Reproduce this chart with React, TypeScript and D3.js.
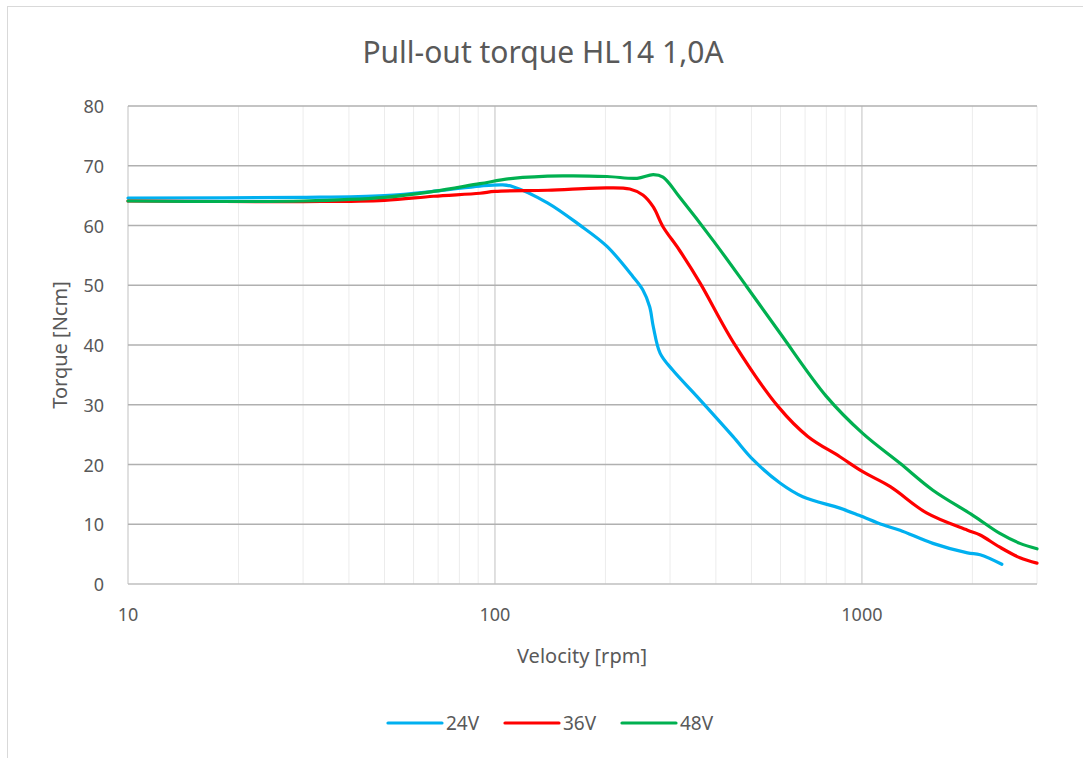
import * as d3 from 'd3';

// velocity [rpm] / torque [Ncm]
const v24 = [10, 30, 50, 70, 91, 105, 112, 139, 170, 202, 238, 253, 264, 270, 282, 305, 355, 445, 505, 598, 690, 871, 982, 1141, 1270, 1561, 1940, 2100, 2406];
const t24 = [64.6, 64.7, 65.0, 65.8, 66.6, 66.8, 66.5, 63.8, 60.1, 56.5, 51.4, 49.2, 46.4, 43.1, 38.6, 35.8, 31.4, 24.7, 20.8, 16.9, 14.6, 12.7, 11.5, 9.9, 9.0, 6.8, 5.2, 4.9, 3.3];

const v36 = [10, 30, 50, 68, 91, 100, 139, 202, 233, 253, 270, 287, 318, 362, 449, 593, 712, 871, 1005, 1195, 1500, 1940, 2100, 2370, 2695, 3000];
const t36 = [64.1, 64.0, 64.2, 64.9, 65.4, 65.7, 65.9, 66.3, 66.1, 65.1, 63.1, 59.8, 55.9, 50.4, 40.2, 29.6, 24.7, 21.3, 18.8, 16.3, 11.9, 9.0, 8.2, 6.2, 4.4, 3.5];

const v48 = [10, 30, 50, 68, 91, 112, 153, 202, 244, 270, 287, 318, 392, 485, 598, 800, 1005, 1270, 1561, 2006, 2370, 2695, 3000];
const t48 = [64.1, 64.1, 64.7, 65.7, 67.0, 67.9, 68.3, 68.2, 67.9, 68.5, 68.1, 64.8, 57.6, 49.8, 42.0, 31.4, 25.2, 20.2, 15.7, 11.5, 8.5, 6.8, 5.9];

const seriesNames = ['24V', '36V', '48V'];
const seriesColors = ['#00B0F0', '#FF0000', '#00B050'];
const seriesX = [v24, v36, v48];
const seriesY = [t24, t36, t48];

const yTicks = [0, 10, 20, 30, 40, 50, 60, 70, 80];
const xMajor = [10, 100, 1000];
const xMinor = [20, 30, 40, 50, 60, 70, 80, 90, 200, 300, 400, 500, 600, 700, 800, 900, 2000, 3000];

const W = 1083, H = 758;
const left = 128, right = 1037, top = 106, bottom = 584;
const font = 'Noto Sans, sans-serif';
const textColor = '#595959';

export default function App() {
  const x = d3.scaleLog().domain([10, 3000]).range([left, right]);
  const y = d3.scaleLinear().domain([0, 80]).range([bottom, top]);

  const line = d3.line<[number, number]>()
    .x(d => x(d[0]))
    .y(d => y(d[1]))
    .curve(d3.curveCatmullRom.alpha(0.5));

  return (
    <svg width={W} height={H} style={{ position: 'absolute', left: 0, top: 0 }} fontFamily={font}>
      <rect x={0} y={0} width={W} height={H} fill="#fff" />
      <rect x={7.5} y={6.5} width={W + 20} height={H + 20} fill="none" stroke="#d9d9d9" />

      <text x={543} y={63} textAnchor="middle" fontSize={30} fill={textColor}>Pull-out torque HL14 1,0A</text>

      {xMinor.map(v => (
        <line key={'mn' + v} x1={x(v)} x2={x(v)} y1={top} y2={bottom} stroke="#ececec" strokeWidth={1} />
      ))}
      {xMajor.map(v => (
        <line key={'mj' + v} x1={x(v)} x2={x(v)} y1={top} y2={bottom} stroke="#d0d0d0" strokeWidth={1.3} />
      ))}
      {yTicks.map(t => (
        <line key={'h' + t} x1={left} x2={right} y1={y(t)} y2={y(t)} stroke={t === 0 ? '#bfbfbf' : '#b0b0b0'} strokeWidth={1.3} />
      ))}

      {yTicks.map(t => (
        <text key={'yl' + t} x={104} y={y(t) + 7} textAnchor="end" fontSize={18} fill={textColor}>{t}</text>
      ))}
      {xMajor.map(v => (
        <text key={'xl' + v} x={x(v)} y={621} textAnchor="middle" fontSize={18} fill={textColor}>{v}</text>
      ))}

      <text x={582} y={663} textAnchor="middle" fontSize={20} fill={textColor}>Velocity [rpm]</text>
      <text transform={`translate(67, ${(top + bottom) / 2}) rotate(-90)`} textAnchor="middle" fontSize={20} fill={textColor}>Torque [Ncm]</text>

      {seriesNames.map((n, i) => (
        <path key={n} d={line(seriesX[i].map((v, j) => [v, seriesY[i][j]] as [number, number])) || ''}
          fill="none" stroke={seriesColors[i]} strokeWidth={3.2} strokeLinecap="round" strokeLinejoin="round" />
      ))}

      {seriesNames.map((n, i) => (
        <g key={'lg' + n} transform={`translate(${388 + i * 117}, 723)`}>
          <line x1={0} x2={54} y1={0} y2={0} stroke={seriesColors[i]} strokeWidth={3.2} strokeLinecap="round" />
          <text x={58} y={7} fontSize={19} fill={textColor}>{n}</text>
        </g>
      ))}
    </svg>
  );
}
